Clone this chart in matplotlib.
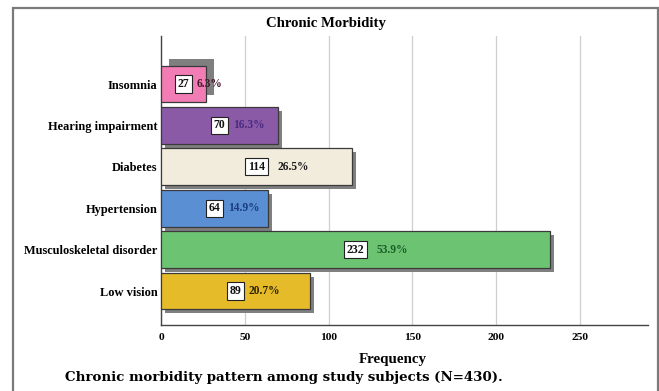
import matplotlib
matplotlib.use("Agg")
import matplotlib.pyplot as plt
import matplotlib.transforms as mtransforms
from matplotlib.patches import Rectangle

# Data (bottom to top)
categories = ["Low vision", "Musculoskeletal disorder", "Hypertension",
              "Diabetes", "Hearing impairment", "Insomnia"]
counts = [89, 232, 64, 114, 70, 27]
percents = ["20.7%", "53.9%", "14.9%", "26.5%", "16.3%", "6.3%"]
x_ticks = [0, 50, 100, 150, 200, 250]

bar_colors = ["#e6bb2a", "#6cc472", "#5b8fd4", "#f2ecdc", "#8b5aa7", "#f27db5"]
pct_colors = ["#2a2200", "#1d5e2a", "#1a3c80", "#1c1c1c", "#4a2a80", "#4a1a30"]

serif = "Liberation Serif"

fig = plt.figure(figsize=(6.59, 3.91), dpi=100)
ax = fig.add_axes([161 / 659, 1 - 325 / 391, 487 / 659, 289 / 391])

ypos = list(range(len(categories)))
bar_h = 0.89

# drop shadows
dpi = fig.dpi
for i, (y, c) in enumerate(zip(ypos, counts)):
    if categories[i] == "Insomnia":
        dx, dy = 8, 7
    else:
        dx, dy = 4, -4
    off = mtransforms.ScaledTranslation(dx / dpi, dy / dpi, fig.dpi_scale_trans)
    ax.barh(y, c, height=bar_h, color="#7f7f7f", edgecolor="none",
            transform=ax.transData + off, zorder=2)

ax.barh(ypos, counts, height=bar_h, color=bar_colors, edgecolor="#3a3a3a",
        linewidth=0.9, zorder=3)

# value labels
for y, c, p, pc in zip(ypos, counts, percents, pct_colors):
    ax.text(c / 2, y, str(c), ha="center", va="center", fontsize=8.5,
            fontfamily=serif, fontweight="bold", color="#111", zorder=5,
            bbox=dict(boxstyle="square,pad=0.22", fc="white", ec="#222", lw=0.8))
    shift = 13 if len(str(c)) < 3 else 21
    ax.annotate(p, (c / 2, y), xytext=(shift * 72 / dpi, 0),
                textcoords="offset points", ha="left", va="center",
                fontsize=8.3, fontfamily=serif, fontweight="bold",
                color=pc, zorder=5)

ax.set_xlim(0, 290.5)
ax.set_ylim(-0.82, 6.16)
ax.set_xticks(x_ticks)
ax.set_xticklabels([str(t) for t in x_ticks], fontfamily=serif,
                   fontweight="bold", fontsize=8.2)
ax.set_yticks(ypos)
ax.set_yticklabels(categories, fontfamily=serif, fontweight="bold", fontsize=8.9)
ax.tick_params(axis="both", length=0)
ax.tick_params(axis="y", pad=2.6)
ax.tick_params(axis="x", pad=6)
ax.grid(axis="x", color="#cfcfcf", linewidth=0.9, zorder=0)
ax.set_axisbelow(True)
for s in ["top", "right"]:
    ax.spines[s].set_visible(False)
for s in ["left", "bottom"]:
    ax.spines[s].set_color("#444444")
    ax.spines[s].set_linewidth(1.0)

fig.text(326 / 659, 1 - 24 / 391, "Chronic Morbidity", ha="center",
         va="center", fontsize=10.6, fontfamily=serif, fontweight="bold")
fig.text(393 / 659, 1 - 360 / 391, "Frequency", ha="center", va="center",
         fontsize=10.8, fontfamily=serif, fontweight="bold")
fig.text(284 / 659, 1 - 377 / 391,
         "Chronic morbidity pattern among study subjects (N=430).",
         ha="center", va="center", fontsize=9.6, fontfamily="DejaVu Serif",
         fontweight="bold")

# outer frame
fig.patches.append(Rectangle((13 / 659, -0.05), (658 - 13) / 659,
                             1.05 - 8 / 391, transform=fig.transFigure,
                             fill=False, edgecolor="#7a7a7a", linewidth=1.6,
                             clip_on=False))

fig.savefig("out.png", dpi=100)
